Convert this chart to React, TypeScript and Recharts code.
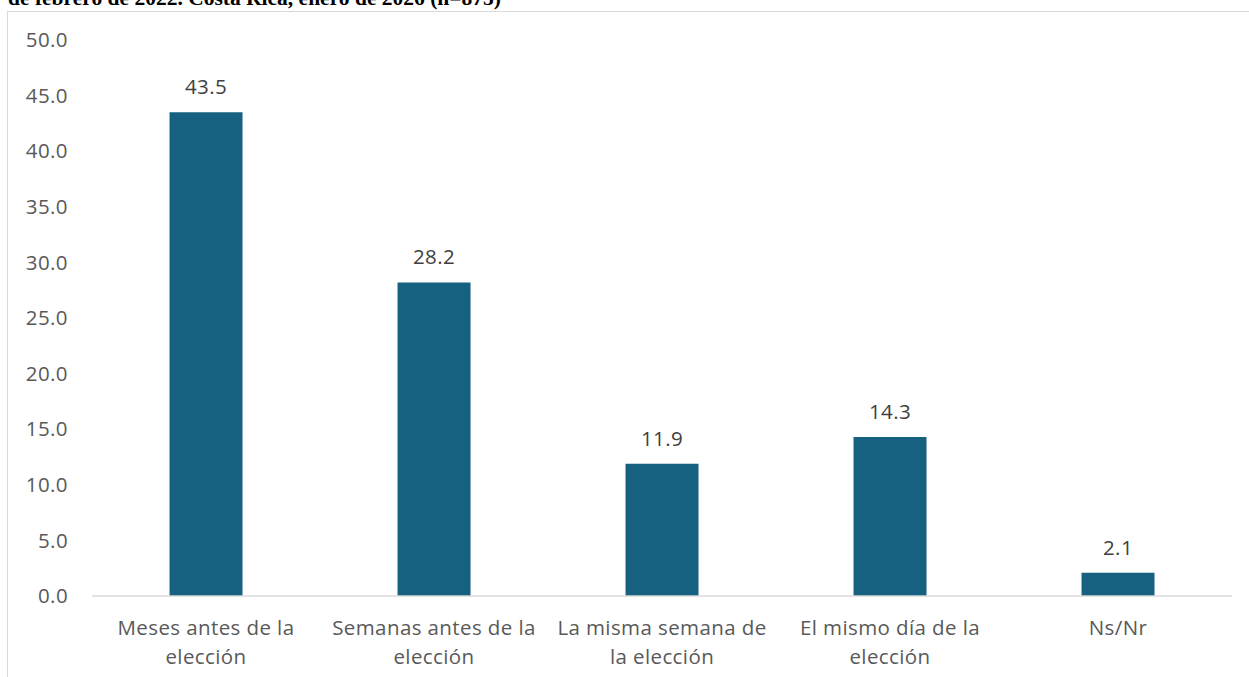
import React from 'react';
import { BarChart, Bar, XAxis, YAxis, LabelList } from 'recharts';

const categories: string[] = [
  'Meses antes de la elección',
  'Semanas antes de la elección',
  'La misma semana de la elección',
  'El mismo día de la elección',
  'Ns/Nr',
];
const values: number[] = [43.5, 28.2, 11.9, 14.3, 2.1];
const yTicks: number[] = [0, 5, 10, 15, 20, 25, 30, 35, 40, 45, 50];
const titleText = 'de febrero de 2022. Costa Rica, enero de 2026 (n=875)';

const data = categories.map((c, i) => ({ name: c, value: values[i] }));

const FONT = '"Open Sans", sans-serif';
const FS = 20.5;
const LS = 0.4;

function wrap(label: string, maxChars: number): string[] {
  const words = label.split(' ');
  const lines: string[] = [];
  let cur = '';
  for (const w of words) {
    const next = cur ? cur + ' ' + w : w;
    if (next.length > maxChars && cur) {
      lines.push(cur);
      cur = w;
    } else {
      cur = next;
    }
  }
  if (cur) lines.push(cur);
  return lines;
}

const XTick = (props: any) => {
  const { x, y, payload } = props;
  const lines = wrap(String(payload.value), 19);
  return (
    <text
      x={x}
      y={y}
      textAnchor="middle"
      fill="#595959"
      fontSize={FS}
      fontFamily={FONT}
      letterSpacing={LS}
    >
      {lines.map((l, i) => (
        <tspan key={i} x={x} dy={i === 0 ? 37 : 29}>
          {l}
        </tspan>
      ))}
    </text>
  );
};

export default function App() {
  return (
    <div
      style={{
        position: 'absolute',
        left: 0,
        top: 0,
        width: 1249,
        height: 677,
        overflow: 'hidden',
        background: '#ffffff',
      }}
    >
      <div
        style={{
          position: 'absolute',
          left: 8,
          top: -13,
          fontFamily: '"Liberation Serif", "Times New Roman", serif',
          fontWeight: 'bold',
          fontSize: 21.5,
          lineHeight: '22px',
          color: '#000',
          whiteSpace: 'nowrap',
        }}
      >
        {titleText}
      </div>
      <div
        style={{
          position: 'absolute',
          left: 7,
          top: 11,
          width: 1300,
          height: 700,
          borderLeft: '1.5px solid #d9d9d9',
          borderTop: '1.5px solid #d9d9d9',
          background: '#ffffff',
        }}
      />
      <div style={{ position: 'absolute', left: 0, top: 0 }}>
        <BarChart
          width={1249}
          height={677}
          data={data}
          margin={{ top: 40, right: 17, bottom: 0, left: 8 }}
          barCategoryGap="34%"
        >
          <XAxis
            dataKey="name"
            axisLine={{ stroke: '#d9d9d9', strokeWidth: 1.5 }}
            tickLine={false}
            tickSize={0}
            interval={0}
            height={81}
            tick={<XTick />}
          />
          <YAxis
            domain={[0, 50]}
            ticks={yTicks}
            interval={0}
            axisLine={false}
            tickLine={false}
            tickSize={0}
            tickMargin={24}
            width={84}
            tickFormatter={(v: number) => v.toFixed(1)}
            tick={{ fill: '#595959', fontSize: FS, fontFamily: FONT, letterSpacing: LS }}
          />
          <Bar dataKey="value" fill="#166080" isAnimationActive={false}>
            <LabelList
              dataKey="value"
              position="top"
              offset={18}
              formatter={(v: number) => v.toFixed(1)}
              style={{ fill: '#404040', fontSize: FS, fontFamily: FONT, letterSpacing: LS }}
            />
          </Bar>
        </BarChart>
      </div>
    </div>
  );
}
